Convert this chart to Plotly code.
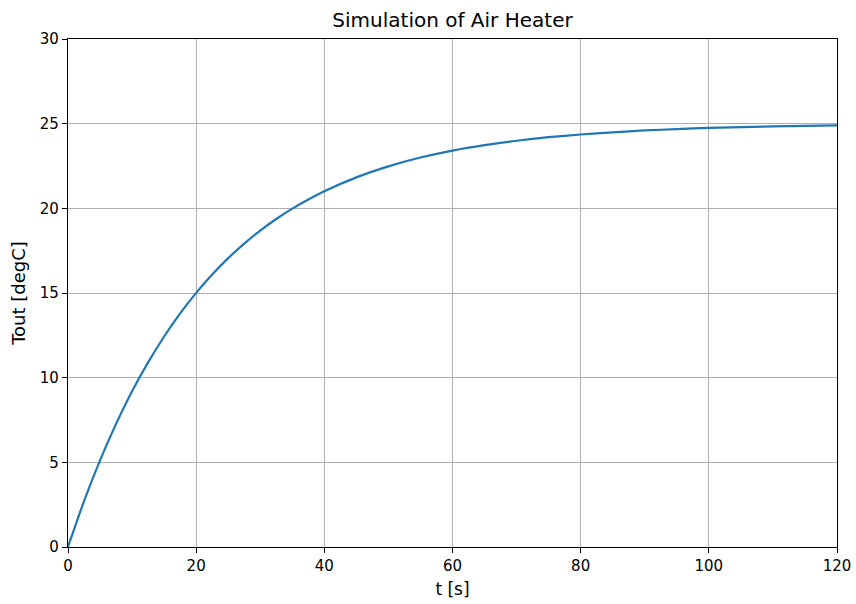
import plotly.graph_objects as go

t = [0, 2.5, 5, 7.5, 10, 12.5, 15, 17.5, 20, 22.5, 25, 27.5, 30, 32.5, 35, 37.5, 40,
     45, 50, 55, 60, 65, 70, 75, 80, 85, 90, 95, 100, 110, 120]
tout = [0, 2.71, 5.12, 7.27, 9.20, 10.90, 12.43, 13.80, 15.01, 16.09, 17.06, 17.92, 18.69,
        19.37, 19.98, 20.52, 21.01, 21.83, 22.48, 23.00, 23.41, 23.73, 23.99, 24.20, 24.36,
        24.49, 24.60, 24.68, 24.75, 24.84, 24.90]
x_ticks = [0, 20, 40, 60, 80, 100, 120]
y_ticks = [0, 5, 10, 15, 20, 25, 30]

font = "DejaVu Sans"
fig = go.Figure()
fig.add_trace(go.Scatter(x=t, y=tout, mode="lines", line=dict(color="#1f77b4", width=2.2, shape="spline", smoothing=0.6),
                         showlegend=False))

axis_common = dict(showgrid=True, gridcolor="#b0b0b0", gridwidth=1, showline=True, linecolor="black",
                   linewidth=1.3, mirror=True, ticks="outside", ticklen=5, tickcolor="black", tickwidth=1.2,
                   zeroline=False, automargin=False, tickfont=dict(family=font, size=15, color="black"))

fig.update_layout(
    width=856, height=604,
    margin=dict(l=68, r=19, t=39, b=57),
    paper_bgcolor="white", plot_bgcolor="white",
    title=dict(text="Simulation of Air Heater", x=0.5, xref="paper", xanchor="center", y=1 - 20/604, yanchor="middle",
               font=dict(family=font, size=20, color="black")),
    xaxis=dict(range=[0, 120], tickvals=x_ticks, title=dict(text="t [s]", font=dict(family=font, size=17, color="black"), standoff=8),
               **axis_common),
    yaxis=dict(range=[0, 30], tickvals=y_ticks, title=dict(text="Tout [degC]", font=dict(family=font, size=18, color="black"), standoff=9),
               **axis_common),
)
fig.write_html("out.html")
